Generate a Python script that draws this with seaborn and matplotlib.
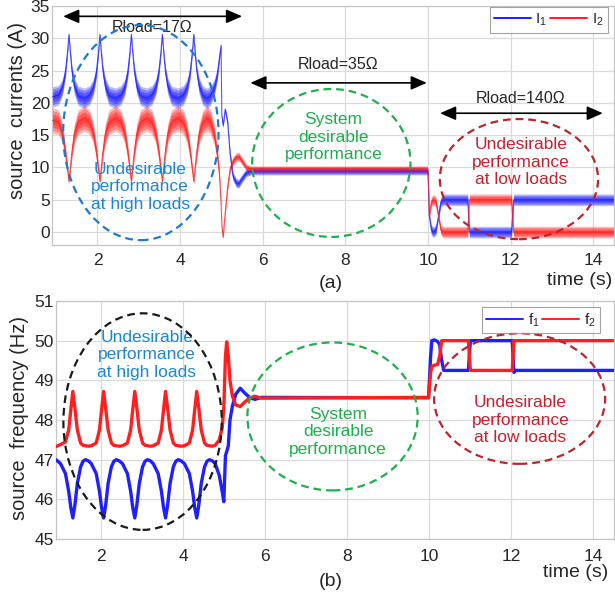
import matplotlib
matplotlib.use("Agg")
import matplotlib.pyplot as plt
import seaborn as sns
import pandas as pd
from matplotlib.patches import Ellipse

# ---------------- source currents (ripple band: centre and half width) ----------------
cur_time = [0.90,
            1.06, 1.15, 1.22, 1.27, 1.31, 1.34, 1.38, 1.44, 1.53, 1.685,
            1.81, 1.90, 1.97, 2.02, 2.06, 2.09, 2.13, 2.19, 2.28, 2.44,
            2.57, 2.66, 2.73, 2.78, 2.82, 2.85, 2.89, 2.95, 3.04, 3.195,
            3.32, 3.41, 3.48, 3.53, 3.57, 3.60, 3.64, 3.70, 3.79, 3.95,
            4.08, 4.17, 4.24, 4.29, 4.33, 4.36, 4.40, 4.46, 4.55, 4.66,
            4.74, 4.83, 4.90, 4.95, 4.99, 5.01, 5.04, 5.09, 5.15, 5.21,
            5.28, 5.36, 5.42, 5.50, 5.60, 5.72,
            9.98, 10.00, 10.03, 10.08, 10.13, 10.19, 10.25, 10.31, 10.36,
            10.96, 11.00, 12.02, 12.07, 14.50]
i1_mid = [20.9,
          21.2, 22.4, 24.6, 27.6, 30.6, 28.0, 25.0, 22.6, 21.1, 20.7,
          21.2, 22.4, 24.6, 27.6, 30.6, 28.0, 25.0, 22.6, 21.1, 20.7,
          21.2, 22.4, 24.6, 27.6, 30.6, 28.0, 25.0, 22.6, 21.1, 20.7,
          21.2, 22.4, 24.6, 27.6, 30.6, 28.0, 25.0, 22.6, 21.1, 20.7,
          21.2, 22.4, 24.6, 27.6, 30.6, 28.0, 25.0, 22.6, 21.1, 20.7,
          21.2, 22.4, 24.4, 27.0, 28.9, 18.0, 16.5, 19.0, 17.0, 12.0,
          8.6, 7.6, 7.5, 8.3, 9.2, 9.45,
          9.45, 9.0, 2.5, 0.3, 0.0, 0.3, 2.4, 4.7, 5.0,
          5.0, 0.0, 0.0, 5.0, 5.0]
i1_half = [1.6,
           1.5, 1.3, 1.0, 0.7, 0.3, 0.6, 0.9, 1.3, 1.5, 1.6,
           1.5, 1.3, 1.0, 0.7, 0.3, 0.6, 0.9, 1.3, 1.5, 1.6,
           1.5, 1.3, 1.0, 0.7, 0.3, 0.6, 0.9, 1.3, 1.5, 1.6,
           1.5, 1.3, 1.0, 0.7, 0.3, 0.6, 0.9, 1.3, 1.5, 1.6,
           1.5, 1.3, 1.0, 0.7, 0.3, 0.6, 0.9, 1.3, 1.5, 1.6,
           1.5, 1.3, 1.0, 0.7, 0.3, 0.4, 0.4, 0.4, 0.5, 0.6,
           0.7, 0.7, 0.7, 0.65, 0.65, 0.6,
           0.6, 0.45, 0.5, 0.8, 0.85, 0.8, 0.5, 0.8, 0.9,
           0.9, 0.9, 0.9, 0.9, 0.9]
i2_mid = [17.3,
          17.0, 15.3, 12.6, 10.0, 7.8, 9.8, 12.4, 15.2, 17.0, 17.6,
          17.0, 15.3, 12.6, 10.0, 7.8, 9.8, 12.4, 15.2, 17.0, 17.6,
          17.0, 15.3, 12.6, 10.0, 7.8, 9.8, 12.4, 15.2, 17.0, 17.6,
          17.0, 15.3, 12.6, 10.0, 7.8, 9.8, 12.4, 15.2, 17.0, 17.6,
          17.0, 15.3, 12.6, 10.0, 7.8, 9.8, 12.4, 15.2, 17.0, 17.6,
          17.0, 15.0, 12.0, 9.0, 4.5, 1.0, -0.8, 3.0, 7.0, 9.8,
          11.0, 11.6, 11.7, 11.0, 10.0, 9.75,
          9.75, 9.5, 2.5, 4.7, 5.0, 4.7, 2.6, 0.3, 0.0,
          0.0, 5.0, 5.0, 0.0, 0.0]
i2_half = [2.0,
           1.9, 1.6, 1.2, 0.8, 0.3, 0.7, 1.1, 1.6, 1.9, 2.0,
           1.9, 1.6, 1.2, 0.8, 0.3, 0.7, 1.1, 1.6, 1.9, 2.0,
           1.9, 1.6, 1.2, 0.8, 0.3, 0.7, 1.1, 1.6, 1.9, 2.0,
           1.9, 1.6, 1.2, 0.8, 0.3, 0.7, 1.1, 1.6, 1.9, 2.0,
           1.9, 1.6, 1.2, 0.8, 0.3, 0.7, 1.1, 1.6, 1.9, 2.0,
           1.9, 1.6, 1.2, 0.9, 0.6, 0.4, 0.3, 0.5, 0.6, 0.6,
           0.7, 0.7, 0.7, 0.6, 0.55, 0.5,
           0.5, 0.4, 0.5, 0.8, 0.85, 0.8, 0.5, 0.8, 0.9,
           0.9, 0.9, 0.9, 0.9, 0.9]

# ---------------- source frequencies ----------------
freq_time = [0.90, 1.01, 1.13, 1.21, 1.26,
             1.31, 1.36, 1.42, 1.50, 1.56, 1.62, 1.69, 1.76, 1.88, 1.96, 2.01,
             2.06, 2.11, 2.17, 2.25, 2.31, 2.37, 2.44, 2.52, 2.64, 2.72, 2.77,
             2.82, 2.87, 2.93, 3.01, 3.07, 3.13, 3.20, 3.27, 3.39, 3.47, 3.52,
             3.57, 3.62, 3.68, 3.76, 3.82, 3.88, 3.95, 4.03, 4.15, 4.23, 4.28,
             4.33, 4.38, 4.44, 4.52, 4.58, 4.64, 4.71,
             4.78, 4.88, 4.95, 4.99, 5.03, 5.06, 5.10, 5.14, 5.20, 5.28,
             5.39, 5.50, 5.63, 5.75, 5.90, 9.98,
             10.03, 10.06, 10.12, 10.20, 10.25, 10.30, 10.35, 10.95, 11.00,
             12.02, 12.06, 12.10, 14.50]
f1 = [47.0, 46.9, 46.65, 46.2, 45.8,
      45.53, 45.85, 46.4, 46.82, 46.96, 47.0, 46.97, 46.9, 46.65, 46.2, 45.8,
      45.53, 45.85, 46.4, 46.82, 46.96, 47.0, 46.97, 46.9, 46.65, 46.2, 45.8,
      45.53, 45.85, 46.4, 46.82, 46.96, 47.0, 46.97, 46.9, 46.65, 46.2, 45.8,
      45.53, 45.85, 46.4, 46.82, 46.96, 47.0, 46.97, 46.9, 46.65, 46.2, 45.8,
      45.53, 45.85, 46.4, 46.82, 46.96, 47.0, 46.97,
      46.9, 46.6, 46.2, 45.94, 47.1, 47.2, 47.35, 48.0, 48.35, 48.65,
      48.8, 48.68, 48.56, 48.52, 48.57, 48.56,
      49.6, 50.0, 50.02, 49.98, 49.9, 49.5, 49.25, 49.25, 50.0,
      50.0, 49.2, 49.25, 49.25]
f2 = [47.33, 47.38, 47.45, 47.75, 48.25,
      48.72, 48.3, 47.75, 47.42, 47.36, 47.35, 47.34, 47.35, 47.42, 47.75, 48.25,
      48.72, 48.3, 47.75, 47.42, 47.36, 47.35, 47.34, 47.35, 47.42, 47.75, 48.25,
      48.72, 48.3, 47.75, 47.42, 47.36, 47.35, 47.34, 47.35, 47.42, 47.75, 48.25,
      48.72, 48.3, 47.75, 47.42, 47.36, 47.35, 47.34, 47.35, 47.42, 47.75, 48.25,
      48.72, 48.3, 47.75, 47.42, 47.36, 47.35, 47.34,
      47.36, 47.5, 47.8, 48.3, 49.6, 49.97, 49.6, 49.0, 48.6, 48.38,
      48.34, 48.45, 48.56, 48.6, 48.55, 48.57,
      49.2, 49.35, 49.38, 49.4, 49.6, 50.0, 50.0, 50.0, 49.25,
      49.25, 50.0, 50.0, 50.0]

x_ticks = [2, 4, 6, 8, 10, 12, 14]
cur_ticks = [0, 5, 10, 15, 20, 25, 30, 35]
freq_ticks = [45, 46, 47, 48, 49, 50, 51]

BLUE = "#1f1fff"
RED = "#ff1f1f"
TXT = "#262626"

sns.set_theme(style="whitegrid")
plt.rcParams["font.family"] = ["Liberation Sans", "DejaVu Sans"]
plt.rcParams["mathtext.default"] = "regular"

fig = plt.figure(figsize=(6.15, 5.98), dpi=100)
W, H = 615.0, 598.0
ax1 = fig.add_axes([52 / W, 1 - 245 / H, (614 - 52) / W, (245 - 6) / H])
ax2 = fig.add_axes([56 / W, 1 - 539 / H, (614 - 56) / W, (539 - 301) / H])

cur = pd.DataFrame({"t": cur_time, "i1": i1_mid, "h1": i1_half,
                    "i2": i2_mid, "h2": i2_half})
frq = pd.DataFrame({"t": freq_time, "f1": f1, "f2": f2})

# ripple bands of the two currents: soft edge, denser core
for col, hw, colour, lab in [("i1", "h1", BLUE, r"$I_1$"), ("i2", "h2", RED, r"$I_2$")]:
    for k, a in [(1.0, 0.3), (0.78, 0.35), (0.52, 0.4), (0.26, 0.4)]:
        ax1.fill_between(cur["t"], cur[col] - k * cur[hw], cur[col] + k * cur[hw],
                         color=colour, alpha=a, lw=0, zorder=2)
    sns.lineplot(data=cur, x="t", y=col, ax=ax1, color=colour, lw=0.7, alpha=0.8,
                 label=lab, estimator=None, sort=False, zorder=3)

sns.lineplot(data=frq, x="t", y="f1", ax=ax2, color=BLUE, lw=2.4,
             label=r"$f_1$", estimator=None, sort=False, zorder=3,
             solid_joinstyle="round")
sns.lineplot(data=frq, x="t", y="f2", ax=ax2, color=RED, lw=2.4,
             label=r"$f_2$", estimator=None, sort=False, zorder=3,
             solid_joinstyle="round")

for ax, yt, yl, xpad in [(ax1, cur_ticks, (-2, 35), 6), (ax2, freq_ticks, (45, 51), 7)]:
    ax.set_xlim(0.9, 14.5)
    ax.set_ylim(*yl)
    ax.set_xticks(x_ticks)
    ax.set_yticks(yt)
    ax.set_xlabel("")
    ax.set_ylabel("")
    ax.set_facecolor("white")
    ax.grid(True, color="#dadada", lw=0.9)
    for s in ax.spines.values():
        s.set_color("#c4c4c4")
        s.set_linewidth(0.9)
    ax.tick_params(axis="both", length=0, labelsize=12.5, labelcolor=TXT)
    ax.tick_params(axis="y", pad=1.5)
    ax.tick_params(axis="x", pad=xpad)

dash = (0, (3.5, 2.2))

# ---- top panel annotations ----
def darrow(ax, x0, x1, y):
    ax.annotate("", xy=(x1, y), xytext=(x0, y),
                arrowprops=dict(arrowstyle="<|-|>,head_length=0.8,head_width=0.35",
                                color="black", lw=1.2, shrinkA=0, shrinkB=0),
                zorder=5)

darrow(ax1, 1.17, 5.50, 33.4)
darrow(ax1, 5.70, 9.97, 23.1)
darrow(ax1, 10.29, 14.23, 18.4)
ax1.text(3.32, 31.7, "Rload=17\u03a9", ha="center", va="center", fontsize=11.5, color=TXT, zorder=5)
ax1.text(7.83, 25.9, "Rload=35\u03a9", ha="center", va="center", fontsize=11.5, color=TXT, zorder=5)
ax1.text(12.25, 20.7, "Rload=140\u03a9", ha="center", va="center", fontsize=11.5, color=TXT, zorder=5)

ax1.add_patch(Ellipse((3.05, 15.4), 3.76, 33.3, fill=False, ec="#1f7acb", lw=1.6, ls=dash, zorder=6))
ax1.add_patch(Ellipse((7.66, 10.7), 3.83, 22.9, fill=False, ec="#22ad4e", lw=1.6, ls=dash, zorder=6))
ax1.add_patch(Ellipse((12.20, 8.2), 3.83, 18.6, fill=False, ec="#b8262c", lw=1.6, ls=dash, zorder=6))

ax1.text(3.03, 7.0, "Undesirable\nperformance\nat high loads", ha="center", va="center",
         fontsize=12.5, color="#1c86d6", linespacing=1.2, zorder=5)
ax1.text(7.71, 14.7, "System\ndesirable\nperformance", ha="center", va="center",
         fontsize=12.5, color="#1fae4c", linespacing=1.2, zorder=5)
ax1.text(12.25, 10.8, "Undesirable\nperformance\nat low loads", ha="center", va="center",
         fontsize=12.5, color="#c8202c", linespacing=1.2, zorder=5)

# ---- bottom panel annotations ----
ax2.add_patch(Ellipse((3.01, 47.96), 3.86, 5.46, fill=False, ec="#1a1a1a", lw=1.6, ls=dash, zorder=6))
ax2.add_patch(Ellipse((7.64, 48.09), 4.15, 3.73, fill=False, ec="#22ad4e", lw=1.6, ls=dash, zorder=6))
ax2.add_patch(Ellipse((12.20, 48.54), 4.17, 3.29, fill=False, ec="#b8262c", lw=1.6, ls=dash, zorder=6))

ax2.text(3.11, 49.64, "Undesirable\nperformance\nat high loads", ha="center", va="center",
         fontsize=12.5, color="#1c86d6", linespacing=1.2, zorder=5)
ax2.text(7.78, 47.70, "System\ndesirable\nperformance", ha="center", va="center",
         fontsize=12.5, color="#1fae4c", linespacing=1.2, zorder=5)
ax2.text(12.22, 48.00, "Undesirable\nperformance\nat low loads", ha="center", va="center",
         fontsize=12.5, color="#c8202c", linespacing=1.2, zorder=5)

# ---- legends ----
for ax, anchor in [(ax1, (0.989, 0.996)), (ax2, (0.975, 0.976))]:
    h, l = ax.get_legend_handles_labels()
    leg = ax.legend(h, l, loc="upper right", bbox_to_anchor=anchor, ncol=2,
                    fontsize=11, frameon=True, fancybox=False, edgecolor="#8c8c8c",
                    handlelength=2.4, handletextpad=0.3, columnspacing=0.2,
                    borderpad=0.3, borderaxespad=0)
    leg.get_frame().set_linewidth(0.8)
    leg.set_zorder(10)
    for ln in leg.get_lines():
        ln.set_linewidth(1.4)
        ln.set_alpha(1.0)
    for t in leg.get_texts():
        t.set_color(TXT)

# ---- axis titles ----
fig.text(18 / W, 1 - 110.5 / H, "source  currents (A)", rotation=90, ha="center", va="center",
         fontsize=14.5, color=TXT)
fig.text(20 / W, 1 - 418.5 / H, "source  frequency (Hz)", rotation=90, ha="center", va="center",
         fontsize=14.5, color=TXT)
fig.text(580 / W, 1 - 280.5 / H, "time (s)", ha="center", va="center", fontsize=14, color=TXT)
fig.text(576 / W, 1 - 572.5 / H, "time (s)", ha="center", va="center", fontsize=14, color=TXT)
fig.text(331 / W, 1 - 283 / H, "(a)", ha="center", va="center", fontsize=14, color=TXT)
fig.text(331 / W, 1 - 582 / H, "(b)", ha="center", va="center", fontsize=14, color=TXT)

fig.savefig("out.png", dpi=100, facecolor="white")
